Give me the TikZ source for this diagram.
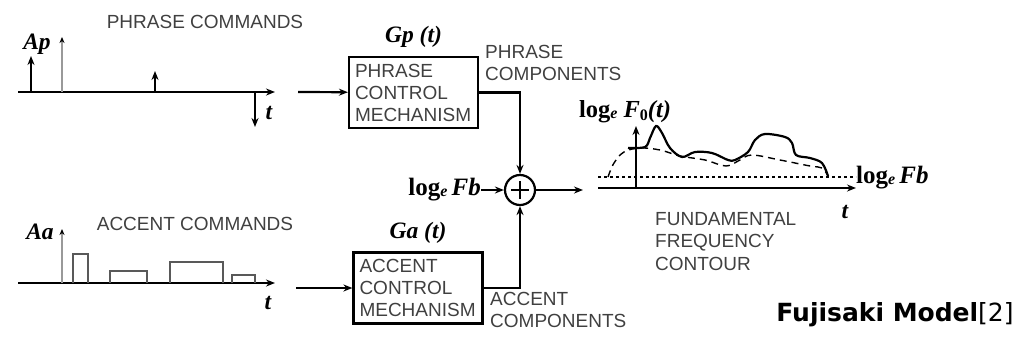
\documentclass[tikz,border=0pt]{standalone}
\usepackage{fontspec}
\setmainfont{Liberation Sans}
\newfontfamily\tmsfont{Liberation Serif}
\newfontfamily\vrdfont{DejaVu Sans}
\usepackage{tikz}
\usetikzlibrary{positioning,arrows.meta}
\usepackage{xcolor}

% label macros
\newcommand{\bi}[1]{{\tmsfont\bfseries\itshape #1}}
\newcommand{\logfb}{{\tmsfont\bfseries\fontsize{25}{25}\selectfont log\raisebox{-1pt}{\fontsize{16}{16}\selectfont\itshape e}\,\itshape Fb}}

\begin{document}
\begin{tikzpicture}[x=1pt,y=-1pt,>={Stealth[length=9pt,width=7pt]},
  lbl/.style={text=black!75,font=\fontsize{19}{22.5}\selectfont,inner sep=0pt},
  sym/.style={font=\fontsize{23.5}{24}\selectfont,inner sep=0pt},
  mech/.style={draw,line width=2.2pt,minimum width=129pt,minimum height=71pt,
    text width=117pt,align=left,text=black!75,font=\fontsize{19}{22}\selectfont},
  axis/.style={line width=1.8pt,->},
  wire/.style={line width=2.2pt}]
\useasboundingbox (0,0) rectangle (1020,341);

% phrase commands
\node[lbl] (pcmd) at (205,22) {PHRASE COMMANDS};
\node[sym] (ap) at (37,44) {\bi{Ap}};
\draw[axis] (18,92) -- (275,92);
\draw[line width=1.8pt,black!40,-{Stealth[length=6pt,width=5pt,color=black]}] (62,92) -- (62,37);
\draw[axis] (31,92) -- (31,56);
\draw[axis] (155,92) -- (155,71);
\draw[axis] (255,92) -- (255,127);
\node[sym] (pt) at (269,113) {\bi{t}};

% accent commands
\node[lbl] (acmd) at (195,224) {ACCENT COMMANDS};
\node[sym] (aa) at (40,232) {\bi{Aa}};
\draw[axis] (18,283) -- (275,283);
\draw[line width=1.8pt,black!40,-{Stealth[length=6pt,width=5pt,color=black]}] (62,283) -- (62,229);
\draw[line width=1.4pt,black!65] (73,283) |- (88,254) -- (88,283)
  (110,283) |- (147,271) -- (147,283)
  (170,283) |- (223,262) -- (223,283)
  (232,283) |- (255,275) -- (255,283);
\node[sym] (at) at (268,303) {\bi{t}};

% mechanisms
\node[mech] (pcm) at (413.5,92.5) {PHRASE\\CONTROL\\MECHANISM};
\node[mech] (acm) at (418,288) {ACCENT\\CONTROL\\MECHANISM};
\node[sym,above=8pt of pcm] (gp) {\bi{Gp (t)}};
\node[sym,above=8pt of acm] (ga) {\bi{Ga (t)}};
\coordinate (pin) at (298,92);
\coordinate (ain) at (296,288);
\draw[wire,->] (pin) -- (pcm);
\draw[wire,->] (ain) -- (acm);
\node[lbl,align=left,anchor=north west] (pcomp) at (485,45) {PHRASE\\COMPONENTS};
\node[lbl,align=left,anchor=north west] (acomp) at (490,292) {ACCENT\\COMPONENTS};

% adder
\node[draw,circle,line width=2.2pt,minimum size=30pt,inner sep=0pt] (sum) at (520,190) {};
\draw[line width=1.6pt] (sum.center) ++(-9,0) -- ++(18,0) (sum.center) ++(0,-9) -- ++(0,18);
\node[sym,anchor=east] (fb) at (481,190) {\logfb};
\draw[wire,->] (fb) -- (sum);
\draw[wire,->] (pcm.east) -| (sum.north);
\draw[wire,->] (acm.east) -| (sum.south);
\coordinate (out) at (583,190);
\draw[wire,->] (sum) -- (out);

% output contour
\draw[axis] (598,188) -- (856,188);
\draw[line width=1.5pt,->] (636,188) -- (636,126);
\draw[line width=1.4pt,dash pattern=on 3pt off 3pt] (598,177) -- (856,177);
\draw[line width=1.4pt,dash pattern=on 7pt off 5pt] plot[smooth,tension=0.6] coordinates
  {(608,177) (614,163) (624,152) (640,148) (660,150) (680,156) (705,160) (726,166)
   (740,160) (752,155) (780,160) (810,166) (822,168) (828,176)};
\draw[line width=2.2pt] plot[smooth,tension=0.55] coordinates
  {(628,148) (645,147) (650,138) (656,126) (662,133) (670,148) (682,157) (695,152)
   (712,153) (728,160) (735,160) (748,152) (755,140) (765,134) (785,137) (792,143)
   (796,155) (810,158) (822,163) (828,176)};
\node[sym,anchor=west] (fbo) at (856,178) {\logfb};
\node[sym] (ot) at (845,212) {\bi{t}};
\node[sym] (f0) at (625,112) {{\tmsfont\bfseries\fontsize{24.5}{25}\selectfont log\raisebox{-1pt}{\fontsize{16}{16}\selectfont\itshape e} \itshape F\raisebox{-3pt}{\fontsize{16}{16}\selectfont\upshape 0}(t)}};
\node[lbl,align=left,anchor=north west] (ffc) at (655,212) {FUNDAMENTAL\\FREQUENCY\\CONTOUR};

% title
\node[inner sep=0pt,font=\vrdfont\fontsize{25}{26}\selectfont] (title) at (895,315) {\textbf{Fujisaki Model}[2]};
\end{tikzpicture}
\end{document}
